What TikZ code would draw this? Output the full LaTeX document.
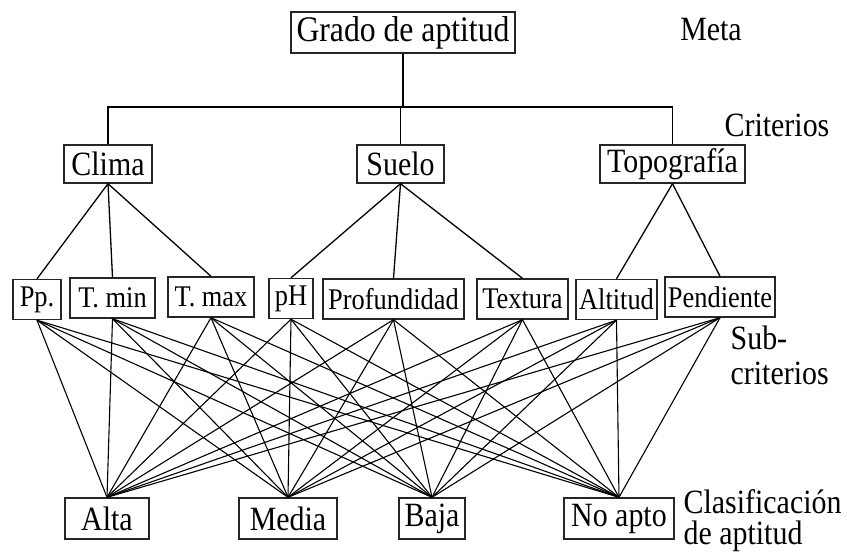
\documentclass[tikz,border=0pt]{standalone}
\usepackage{fontspec}
\setmainfont{Liberation Serif}[FakeStretch=0.88]
\usepackage{tikz}

\begin{document}
\begin{tikzpicture}[x=1pt, y=-1pt, line width=1.3pt,
  box/.style={draw=black!85, line width=1.4pt, inner sep=1pt, minimum height=39pt},
  goalbox/.style={box, font=\fontsize{36}{40}\selectfont, minimum height=41pt},
  critbox/.style={box, font=\fontsize{34}{38}\selectfont, minimum height=38pt},
  subbox/.style={box, font=\fontsize{30}{34}\selectfont, minimum height=40pt},
  classbox/.style={box, font=\fontsize{34}{38}\selectfont, minimum height=41pt},
  level/.style={font=\fontsize{34}{32}\selectfont, align=left, inner sep=0pt}]
  \useasboundingbox (0,0) rectangle (847,552);

  % meta
  \node[goalbox, minimum width=224pt] (goal) at (403,32.5) {Grado de aptitud};

  % criterios
  \node[critbox, minimum width=88pt] (clima) at (108,164) {Clima};
  \node[critbox, minimum width=87pt] (suelo) at (400.5,164) {Suelo};
  \node[critbox, minimum width=145pt] (topo) at (672.5,164) {Topografía};

  % sub-criterios
  \node[subbox, minimum width=48pt] (pp) at (37,299.5) {Pp.};
  \node[subbox, minimum width=85pt] (tmin) at (112.5,298) {T. min};
  \node[subbox, minimum width=86pt] (tmax) at (211,297) {T. max};
  \node[subbox, minimum width=44pt] (ph) at (291,298.5) {pH};
  \node[subbox, minimum width=141pt] (prof) at (393.5,299) {Profundidad};
  \node[subbox, minimum width=91pt] (textura) at (522.5,299) {Textura};
  \node[subbox, minimum width=81pt] (alt) at (616.5,299.5) {Altitud};
  \node[subbox, minimum width=110pt] (pend) at (720,297) {Pendiente};

  % clases
  \node[classbox, minimum width=84pt] (alta) at (107,518.5) {Alta};
  \node[classbox, minimum width=98pt] (media) at (288,518.5) {Media};
  \node[classbox, minimum width=66pt] (baja) at (432,518.5) {Baja};
  \node[classbox, minimum width=110pt] (noapto) at (619,518.5) {No apto};

  % niveles
  \node[level] (lmeta) at (711,30) {Meta};
  \node[level] (lcrit) at (777,125) {Criterios};
  \node[level, anchor=west, font=\fontsize{34}{35}\selectfont] (lsub) at (730,355) {Sub-\\criterios};
  \node[level, anchor=west, font=\fontsize{34}{31}\selectfont] (lclas) at (683,521) {Clasificación\\de aptitud};

  % arbol superior
  \coordinate (bar) at (0,107);
  \draw (goal.south) -- (goal.south |- bar);
  \draw (clima.north) -- (clima.north |- bar) -- (topo.north |- bar) -- (topo.north);
  \draw (suelo.north) -- (suelo.north |- bar);

  \foreach \s in {pp,tmin,tmax}
    \draw (clima.south) -- (\s.north);
  \foreach \s in {ph,prof,textura}
    \draw (suelo.south) -- (\s.north);
  \foreach \s in {alt,pend}
    \draw (topo.south) -- (\s.north);

  % sub-criterios a clases
  \foreach \s in {pp,tmin,tmax,ph,prof,textura,alt,pend}
    \foreach \c in {alta,media,baja,noapto}
      \draw[line width=1.1pt] (\s.south) -- (\c.north);
\end{tikzpicture}
\end{document}
